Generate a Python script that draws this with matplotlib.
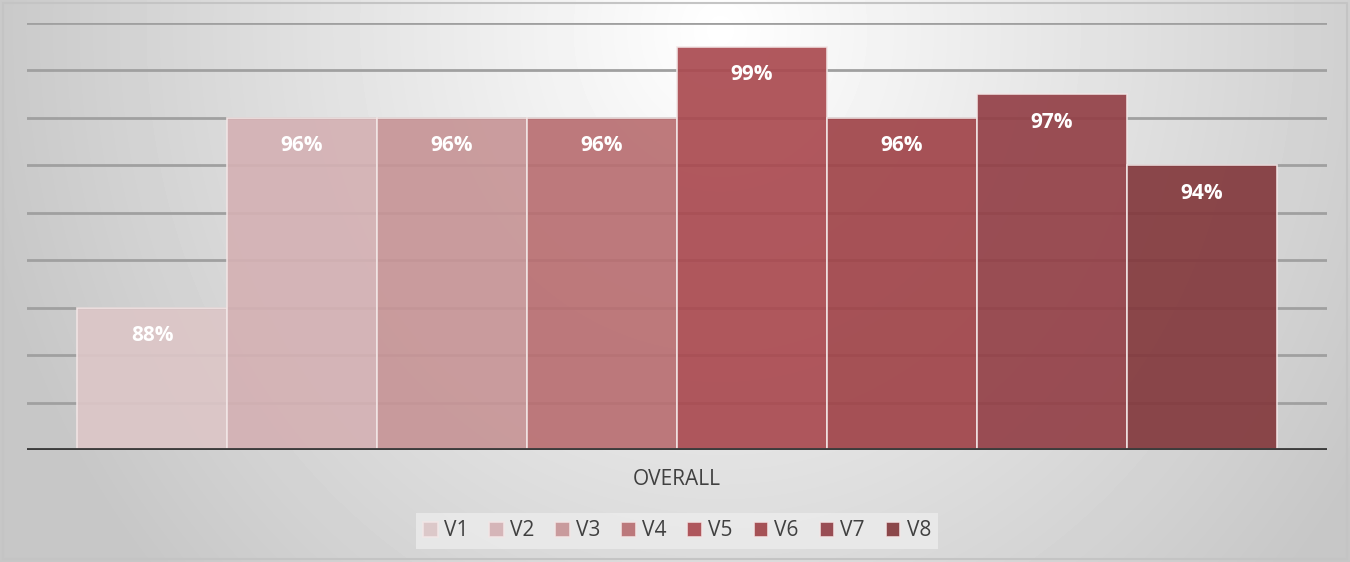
import matplotlib.pyplot as plt
import numpy as np

plt.rcParams['font.family'] = ['Open Sans', 'DejaVu Sans']

series = ['V1', 'V2', 'V3', 'V4', 'V5', 'V6', 'V7', 'V8']
values = [0.88, 0.96, 0.96, 0.96, 0.99, 0.96, 0.97, 0.94]
category = 'OVERALL'
colors = ['#dcc6c7', '#d4b1b4', '#c79597', '#b96f72', '#aa4a50', '#a04449', '#934047', '#83393d']

fig = plt.figure(figsize=(13.5, 5.62), dpi=100)

# radial gray background
bg = fig.add_axes([0, 0, 1, 1], zorder=-10)
yy, xx = np.mgrid[0:562, 0:1350]
r = np.sqrt(((xx - 720) / 820.0) ** 2 + ((yy - 30) / 900.0) ** 2)
shade = np.clip(1.0 - 0.24 * r, 0.78, 1.0)
bg.imshow(shade, cmap='gray', vmin=0, vmax=1, aspect='auto', extent=[0, 1350, 562, 0])
bg.plot([3, 1347, 1347, 3, 3], [3, 3, 559, 559, 3], color='#c4c4c4', lw=1.5)
bg.set_xlim(0, 1350)
bg.set_ylim(562, 0)
bg.axis('off')

ax = fig.add_axes([27 / 1350, (562 - 450) / 562, 1300 / 1350, 427 / 562])
ax.patch.set_alpha(0)
ymin, ymax = 0.82, 1.0
for g in np.arange(ymin + 0.02, ymax + 0.001, 0.02):
    ax.axhline(g, color='#a0a0a0', lw=2, zorder=1)

x = np.arange(len(series))
for i in range(len(series)):
    ax.bar(x[i], values[i] - ymin, bottom=ymin, width=1.0, color=colors[i], alpha=0.92,
           edgecolor='#f2e6e6', linewidth=1.2, label=series[i], zorder=2)
    ax.text(x[i], values[i] - 0.0118, '{:.0%}'.format(values[i]), ha='center', va='center',
            color='white', fontsize=15, fontweight='bold', zorder=3)

ax.axhline(ymin, color='#3c3c3c', lw=3.5, zorder=4)
ax.set_xlim(-0.5 - 1 / 3, 7.5 + 1 / 3)
ax.set_ylim(ymin, ymax)
ax.set_xticks([3.5])
ax.set_xticklabels([category], fontsize=15, color='#404040')
ax.tick_params(axis='x', length=0, pad=14)
ax.set_yticks([])
for s in ax.spines.values():
    s.set_visible(False)

leg = fig.legend(loc='center', bbox_to_anchor=(677 / 1350, 1 - 531 / 562), ncol=8,
                 fontsize=15, frameon=True, fancybox=False, handlelength=0.7, handleheight=0.7,
                 handletextpad=0.3, columnspacing=1.0, borderpad=0.35)
leg.get_frame().set_facecolor('#ececec')
leg.get_frame().set_edgecolor('none')
leg.get_frame().set_alpha(0.8)
for t in leg.get_texts():
    t.set_color('#404040')

fig.savefig('out.png', dpi=100)
